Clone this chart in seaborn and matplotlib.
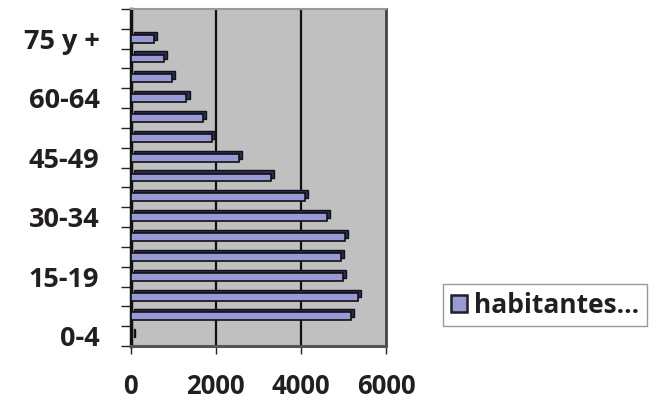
import numpy as np
import pandas as pd
import seaborn as sns
import matplotlib.pyplot as plt
from matplotlib.patches import Patch, Rectangle
from matplotlib.transforms import ScaledTranslation
from matplotlib.ticker import FixedLocator

# Age groups (bottom to top) and number of inhabitants
age_groups = ["0-4", "5-9", "10-14", "15-19", "20-24", "25-29", "30-34", "35-39",
              "40-44", "45-49", "50-54", "55-59", "60-64", "65-69", "70-74", "75 y +"]
habitantes = [40, 5180, 5340, 4990, 4950, 5030, 4600, 4090,
              3290, 2540, 1910, 1690, 1310, 960, 790, 540]
shown_labels = ["0-4", "15-19", "30-34", "45-49", "60-64", "75 y +"]
x_ticks = [0, 2000, 4000, 6000]
series_name = "habitantes\u2026"

df = pd.DataFrame({"edad": age_groups, "habitantes": habitantes})

sns.set_theme(style="white")
plt.rcParams["font.family"] = ["Open Sans", "DejaVu Sans"]
plt.rcParams["font.weight"] = "bold"

text_color = "#231f20"
face = "#9999d6"
side = "#2c2c5a"

fig = plt.figure(figsize=(6.6, 4.03), dpi=100)
ax = fig.add_axes([0.198, 0.141, 0.387, 0.837])
ax.set_facecolor("#c0c0c0")

sns.barplot(data=df, y="edad", x="habitantes", order=age_groups, orient="h",
            color=face, saturation=1, width=0.40, edgecolor="#111111",
            linewidth=1.2, ax=ax, zorder=3)

# depth effect: a dark copy of every bar, shifted right and up
shift = ScaledTranslation(2.2 / 72, 2.2 / 72, fig.dpi_scale_trans)
for p in list(ax.patches):
    shadow = Rectangle(p.get_xy(), p.get_width(), p.get_height(),
                       transform=ax.transData + shift, facecolor=side,
                       edgecolor="#111111", linewidth=1.0, zorder=2)
    ax.add_patch(shadow)

n = len(age_groups)
ax.set_ylim(-0.5, n + 0.5)
ax.set_xlim(0, 6000)

# vertical gridlines on the wall
for v in x_ticks[1:-1]:
    ax.axvline(v, color="#111111", lw=1.6, zorder=1)

ax.set_xticks(x_ticks)
ax.set_xticklabels([str(v) for v in x_ticks], fontsize=18.5, fontweight="bold",
                   color=text_color)
pos = [age_groups.index(l) for l in shown_labels]
ax.set_yticks(pos)
ax.set_yticklabels(shown_labels, fontsize=19.5, fontweight="bold", color=text_color)
ax.yaxis.set_minor_locator(FixedLocator(np.arange(-0.5, n + 1.0, 1.0)))

ax.tick_params(axis="y", which="major", length=0, pad=22.5)
ax.tick_params(axis="y", which="minor", length=7.5, width=1.0, color="#222222",
               left=True)
ax.tick_params(axis="x", which="major", length=6, width=1.0, color="#222222",
               bottom=True, pad=13)

ax.set_xlabel("")
ax.set_ylabel("")

ax.spines["left"].set_color("#111111")
ax.spines["left"].set_linewidth(2.5)
ax.spines["bottom"].set_color("#555555")
ax.spines["bottom"].set_linewidth(2.2)
ax.spines["right"].set_color("#444444")
ax.spines["right"].set_linewidth(2.0)
ax.spines["top"].set_color("#999999")
ax.spines["top"].set_linewidth(1.5)

handle = Patch(facecolor=face, edgecolor=text_color, linewidth=1.8)
leg = fig.legend([handle], [series_name], loc="center",
                 bbox_to_anchor=(0.826, 0.243), frameon=True, fancybox=False,
                 prop={"size": 19, "weight": "bold"}, handlelength=0.6,
                 handleheight=0.6, handletextpad=0.25, borderpad=0.3,
                 borderaxespad=0)
leg.get_frame().set_edgecolor("#808080")
leg.get_frame().set_linewidth(1.0)
for t in leg.get_texts():
    t.set_color(text_color)

fig.savefig("out.png", dpi=100)
